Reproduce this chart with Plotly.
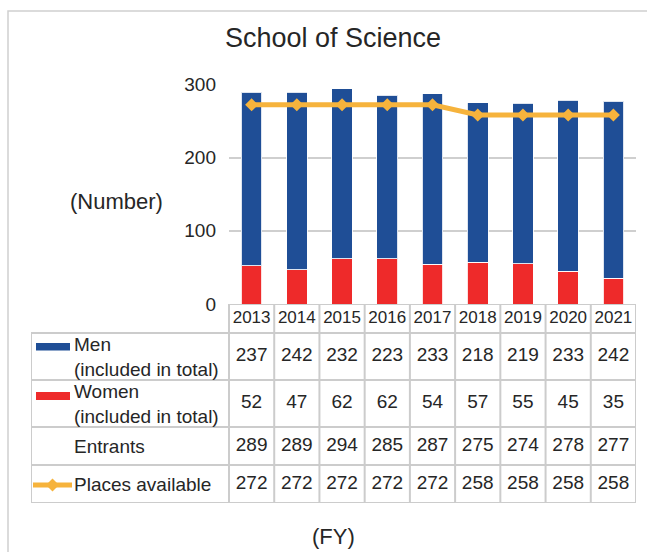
import plotly.graph_objects as go

# ---------------- data ----------------
years = ["2013", "2014", "2015", "2016", "2017", "2018", "2019", "2020", "2021"]
men = [237, 242, 232, 223, 233, 218, 219, 233, 242]
women = [52, 47, 62, 62, 54, 57, 55, 45, 35]
entrants = [289, 289, 294, 285, 287, 275, 274, 278, 277]
places = [272, 272, 272, 272, 272, 258, 258, 258, 258]
y_ticks = [0, 100, 200, 300]

title_text = "School of Science"
y_label = "(Number)"
x_label = "(FY)"
row_labels = ["Men<br>(included in total)", "Women<br>(included in total)", "Entrants", "Places available"]

# ---------------- style / layout ----------------
W, H = 647, 552
FONT = "Liberation Sans, Arial, Helvetica, sans-serif"
TXT = "#262626"
BLUE = "#1F4E96"
RED = "#EE2A2A"
ORANGE = "#F6B33C"
GRID = "#CFCFCF"

PLOT_L, PLOT_R = 229, 636          # px
PLOT_TOP, PLOT_BOT = 84.3, 304     # px (300 and 0)
TAB_L = 31
ROW_EDGES = [304, 333, 380, 427, 465, 503]   # table row boundaries (px, top->bottom)

n = len(years)
unit = (PLOT_R - PLOT_L) / n                 # px per category
label_w = (PLOT_L - TAB_L) / unit            # label column width in category units
X2_MIN = -0.5 - label_w


def px_x(px):
    return px / W


def px_y(py):
    return (H - py) / H


def x2(px):
    """pixel x -> table axis coordinate"""
    return X2_MIN + (px - TAB_L) / unit


fig = go.Figure()

# ---------------- chart ----------------
fig.add_trace(go.Bar(
    x=years, y=women, name="Women", marker=dict(color=RED, line=dict(color="rgba(255,255,255,0.85)", width=1)),
    xaxis="x", yaxis="y", hoverinfo="y"))
fig.add_trace(go.Bar(
    x=years, y=men, name="Men", marker=dict(color=BLUE, line=dict(color="rgba(255,255,255,0.85)", width=1)),
    xaxis="x", yaxis="y", hoverinfo="y"))
fig.add_trace(go.Scatter(
    x=years, y=places, name="Places available", mode="lines+markers",
    line=dict(color=ORANGE, width=5), marker=dict(symbol="diamond", size=10, color=ORANGE),
    xaxis="x", yaxis="y", cliponaxis=False))

# ---------------- table ----------------
row_mid = [(ROW_EDGES[i] + ROW_EDGES[i + 1]) / 2 for i in range(len(ROW_EDGES) - 1)]
idx = list(range(n))

# year header
fig.add_trace(go.Scatter(x=idx, y=[row_mid[0]] * n, mode="text", text=years,
                         textfont=dict(family=FONT, size=17, color=TXT),
                         xaxis="x2", yaxis="y2", hoverinfo="skip", cliponaxis=False))
for r, vals in enumerate([men, women, entrants, places], start=1):
    fig.add_trace(go.Scatter(x=idx, y=[row_mid[r]] * n, mode="text", text=[str(v) for v in vals],
                             textfont=dict(family=FONT, size=19, color=TXT),
                             xaxis="x2", yaxis="y2", hoverinfo="skip", cliponaxis=False))

shapes = []
lc = dict(color="#CCCCCC", width=2)
# horizontal lines
shapes.append(dict(type="line", xref="x2", yref="y2", x0=-0.5, x1=n - 0.5,
                   y0=ROW_EDGES[0], y1=ROW_EDGES[0], line=lc))
for ye in ROW_EDGES[1:]:
    shapes.append(dict(type="line", xref="x2", yref="y2", x0=X2_MIN, x1=n - 0.5,
                       y0=ye, y1=ye, line=lc))
# vertical lines
shapes.append(dict(type="line", xref="x2", yref="y2", x0=X2_MIN, x1=X2_MIN,
                   y0=ROW_EDGES[1], y1=ROW_EDGES[-1], line=lc))
for i in range(n + 1):
    xv = i - 0.5
    shapes.append(dict(type="line", xref="x2", yref="y2", x0=xv, x1=xv,
                       y0=ROW_EDGES[0], y1=ROW_EDGES[-1], line=lc))

# legend swatches
shapes.append(dict(type="rect", xref="x2", yref="y2", x0=x2(36), x1=x2(70), y0=343, y1=350.5,
                   fillcolor=BLUE, line=dict(width=0)))
shapes.append(dict(type="rect", xref="x2", yref="y2", x0=x2(36), x1=x2(70), y0=392, y1=400,
                   fillcolor=RED, line=dict(width=0)))
fig.add_trace(go.Scatter(x=[x2(33), x2(72)], y=[485, 485], mode="lines",
                         line=dict(color=ORANGE, width=5), xaxis="x2", yaxis="y2",
                         hoverinfo="skip", cliponaxis=False))
fig.add_trace(go.Scatter(x=[x2(52.5)], y=[485], mode="markers",
                         marker=dict(symbol="diamond", size=10, color=ORANGE), xaxis="x2", yaxis="y2",
                         hoverinfo="skip", cliponaxis=False))

# outer frame
shapes.append(dict(type="rect", xref="paper", yref="paper", x0=px_x(8), x1=1.2,
                   y0=-0.2, y1=px_y(11), line=dict(color="#D0D0D0", width=1.5), layer="below"))

annotations = []
def ann(text, x, y, size, xanchor="center", xref="paper", yref="paper"):
    annotations.append(dict(text=text, x=x, y=y, xref=xref, yref=yref, showarrow=False,
                            xanchor=xanchor, yanchor="middle", align="left", borderpad=0,
                            font=dict(family=FONT, size=size, color=TXT)))

ann(title_text, px_x(333), px_y(38), 27)
ann(y_label, px_x(116.5), px_y(202), 22)
ann(x_label, px_x(333.5), px_y(536), 22)

lab_x = x2(73)
label_y = [row_mid[1] + 0.5, row_mid[2] + 0.5, row_mid[3], row_mid[4]]
for lab, yv in zip(row_labels, label_y):
    ann(lab, lab_x, yv, 19, "left", "x2", "y2")

fig.update_layout(
    width=W, height=H, autosize=False,
    margin=dict(l=0, r=0, t=0, b=0, pad=0, autoexpand=False),
    paper_bgcolor="white", plot_bgcolor="white",
    showlegend=False, barmode="stack", bargap=0.544,
    font=dict(family=FONT, color=TXT),
    xaxis=dict(domain=[px_x(PLOT_L), px_x(PLOT_R)], type="category", range=[-0.5, n - 0.5],
               showticklabels=False, showgrid=False, zeroline=False, showline=False, anchor="y",
               automargin=False),
    yaxis=dict(domain=[px_y(PLOT_BOT), px_y(PLOT_TOP)], range=[0, 300], tickvals=y_ticks,
               showgrid=True, gridcolor=GRID, gridwidth=2, zeroline=False, showline=False,
               tickfont=dict(family=FONT, size=19, color=TXT), ticks="", ticklabelstandoff=12,
               anchor="x", automargin=False),
    xaxis2=dict(domain=[px_x(TAB_L), px_x(PLOT_R)], range=[X2_MIN, n - 0.5], visible=False,
                anchor="y2", automargin=False),
    yaxis2=dict(domain=[px_y(ROW_EDGES[-1]), px_y(ROW_EDGES[0])], range=[ROW_EDGES[-1], ROW_EDGES[0]],
                visible=False, anchor="x2", automargin=False),
    shapes=shapes, annotations=annotations,
)

fig.write_html("out.html", config={"responsive": False, "displayModeBar": False},
               post_script="document.body.style.margin='0';document.body.style.overflow='hidden';")
